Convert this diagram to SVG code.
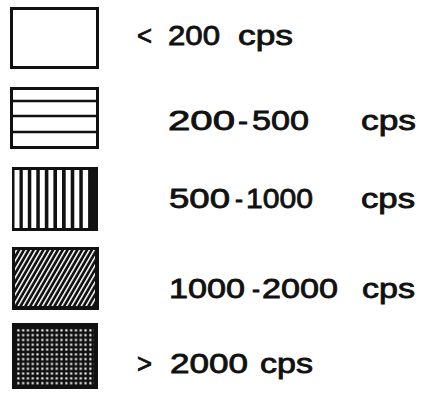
<svg xmlns="http://www.w3.org/2000/svg" width="425" height="394" viewBox="0 0 425 394">
<defs>
<style>
.t{font-family:"Liberation Sans",Arial,sans-serif;font-size:27px;fill:#111;stroke:#111;stroke-width:0.8}
.box{fill:none;stroke:#111;stroke-width:3}
.ln{stroke:#111;stroke-width:2.5}
</style>
<pattern id="diag" width="4.2" height="10" patternUnits="userSpaceOnUse" patternTransform="rotate(30)">
<rect width="4.2" height="10" fill="#111"/>
<rect x="0" y="0" width="1.5" height="10" fill="#fff"/>
</pattern>
<pattern id="dots" x="16" y="328" width="4.8" height="4.8" patternUnits="userSpaceOnUse">
<rect width="4.8" height="4.8" fill="#111"/>
<rect x="1.3" y="1.3" width="2.1" height="2.1" fill="#fff"/>
</pattern>
</defs>
<g id="swatch-lt200">
<rect class="box" x="11.5" y="8.5" width="86" height="59"/>
</g>
<g id="swatch-200-500">
<rect class="box" x="11.5" y="88.5" width="86" height="59"/>
<line class="ln" x1="11" y1="101" x2="98" y2="101"/>
<line class="ln" x1="11" y1="116" x2="98" y2="116"/>
<line class="ln" x1="11" y1="132" x2="98" y2="132"/>
</g>
<g id="swatch-500-1000">
<rect x="12" y="167" width="86" height="64" fill="#111"/>
<g fill="#fff">
<rect x="14.5" y="170" width="5" height="58"/>
<rect x="22.8" y="170" width="5" height="58"/>
<rect x="31.3" y="170" width="5" height="58"/>
<rect x="39.8" y="170" width="5" height="58"/>
<rect x="48.4" y="170" width="5" height="58"/>
<rect x="57" y="170" width="5" height="58"/>
<rect x="65.7" y="170" width="5" height="58"/>
<rect x="74.3" y="170" width="5" height="58"/>
<rect x="82.8" y="170" width="5.3" height="58"/>
</g>
</g>
<g id="swatch-1000-2000">
<rect x="12" y="247" width="87" height="63" fill="#111"/>
<rect x="15" y="250" width="80" height="56" fill="url(#diag)"/>
</g>
<g id="swatch-gt2000">
<rect x="12" y="323" width="86" height="66" fill="#111"/>
<rect x="16" y="328" width="78" height="57" fill="url(#dots)"/>
</g>
<g id="labels">
<text class="t" y="45"><tspan x="137" textLength="15" lengthAdjust="spacingAndGlyphs">&lt;</tspan><tspan x="168" textLength="52" lengthAdjust="spacingAndGlyphs">200</tspan><tspan x="238" textLength="55" lengthAdjust="spacingAndGlyphs">cps</tspan></text>
<text class="t" y="130"><tspan x="168" textLength="67" lengthAdjust="spacingAndGlyphs">200</tspan><tspan x="238" textLength="10" lengthAdjust="spacingAndGlyphs">-</tspan><tspan x="252" textLength="57" lengthAdjust="spacingAndGlyphs">500</tspan><tspan x="361" textLength="55" lengthAdjust="spacingAndGlyphs">cps</tspan></text>
<text class="t" y="208"><tspan x="169" textLength="61" lengthAdjust="spacingAndGlyphs">500</tspan><tspan x="235" textLength="8" lengthAdjust="spacingAndGlyphs">-</tspan><tspan x="246" textLength="67" lengthAdjust="spacingAndGlyphs">1000</tspan><tspan x="361" textLength="54" lengthAdjust="spacingAndGlyphs">cps</tspan></text>
<text class="t" y="298"><tspan x="169" textLength="76" lengthAdjust="spacingAndGlyphs">1000</tspan><tspan x="252" textLength="8" lengthAdjust="spacingAndGlyphs">-</tspan><tspan x="262" textLength="76" lengthAdjust="spacingAndGlyphs">2000</tspan><tspan x="362" textLength="53" lengthAdjust="spacingAndGlyphs">cps</tspan></text>
<text class="t" y="373"><tspan x="137" textLength="15" lengthAdjust="spacingAndGlyphs">&gt;</tspan><tspan x="170" textLength="78" lengthAdjust="spacingAndGlyphs">2000</tspan><tspan x="260" textLength="53" lengthAdjust="spacingAndGlyphs">cps</tspan></text>
</g>
</svg>
